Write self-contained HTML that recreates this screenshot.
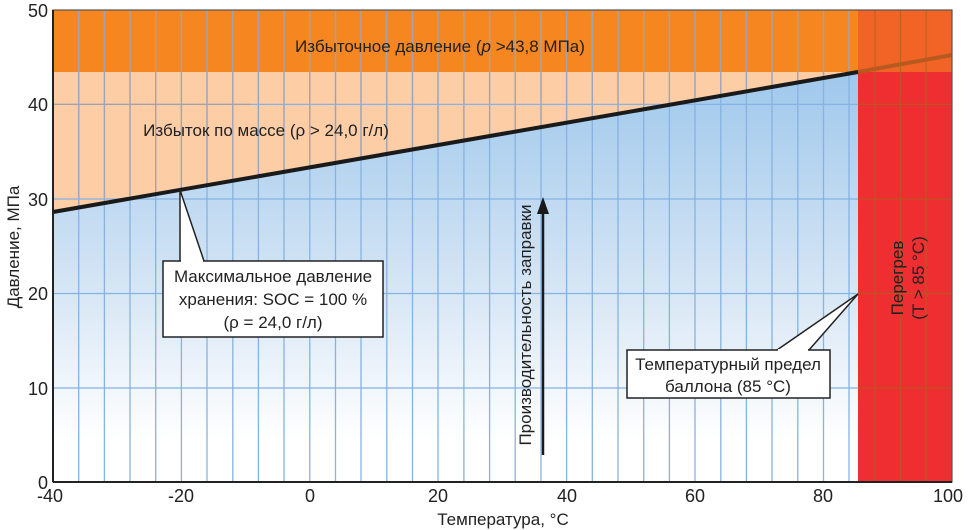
<!DOCTYPE html>
<html><head><meta charset="utf-8"><style>
html,body{margin:0;padding:0;background:#fff;}
svg{display:block;font-family:"Liberation Sans",sans-serif;}
</style></head><body>
<svg width="970" height="530" viewBox="0 0 970 530" xmlns="http://www.w3.org/2000/svg">
<defs>
<linearGradient id="bl" x1="0" y1="0" x2="0" y2="1">
<stop offset="0" stop-color="#9fc8ec"/>
<stop offset="0.5" stop-color="#d3e4f4"/>
<stop offset="0.9" stop-color="#ffffff"/>
</linearGradient>
</defs>
<rect x="53" y="72" width="805" height="410" fill="url(#bl)"/>
<polygon points="53,72 858,72 858,72 53,212" fill="#fdcda6"/>
<rect x="53" y="10" width="805" height="62" fill="#f58620"/>
<rect x="858" y="72" width="94" height="410" fill="#ee2e30"/>
<rect x="858" y="10" width="94" height="62" fill="#f16425"/>
<g stroke="#85b3e3" stroke-width="1.3">
<line x1="78.7" y1="10" x2="78.7" y2="482"/><line x1="104.4" y1="10" x2="104.4" y2="482"/><line x1="130" y1="10" x2="130" y2="482"/><line x1="155.7" y1="10" x2="155.7" y2="482"/><line x1="181.4" y1="10" x2="181.4" y2="482"/><line x1="207" y1="10" x2="207" y2="482"/><line x1="232.8" y1="10" x2="232.8" y2="482"/><line x1="258.4" y1="10" x2="258.4" y2="482"/><line x1="284" y1="10" x2="284" y2="482"/><line x1="309.8" y1="10" x2="309.8" y2="482"/><line x1="335.5" y1="10" x2="335.5" y2="482"/><line x1="361" y1="10" x2="361" y2="482"/><line x1="386.8" y1="10" x2="386.8" y2="482"/><line x1="412.5" y1="10" x2="412.5" y2="482"/><line x1="438" y1="10" x2="438" y2="482"/><line x1="463.9" y1="10" x2="463.9" y2="482"/><line x1="489.6" y1="10" x2="489.6" y2="482"/><line x1="515.2" y1="10" x2="515.2" y2="482"/><line x1="541" y1="10" x2="541" y2="482"/><line x1="566.6" y1="10" x2="566.6" y2="482"/><line x1="592.3" y1="10" x2="592.3" y2="482"/><line x1="618" y1="10" x2="618" y2="482"/><line x1="643.7" y1="10" x2="643.7" y2="482"/><line x1="669.4" y1="10" x2="669.4" y2="482"/><line x1="695" y1="10" x2="695" y2="482"/><line x1="720.8" y1="10" x2="720.8" y2="482"/><line x1="746.4" y1="10" x2="746.4" y2="482"/><line x1="772" y1="10" x2="772" y2="482"/><line x1="797.8" y1="10" x2="797.8" y2="482"/><line x1="823.5" y1="10" x2="823.5" y2="482"/><line x1="849" y1="10" x2="849" y2="482"/>
</g>
<g stroke="#a6a0a8" stroke-width="1.3" opacity="0.8">
<line x1="78.7" y1="10" x2="78.7" y2="207"/><line x1="104.4" y1="10" x2="104.4" y2="203"/><line x1="130" y1="10" x2="130" y2="198"/><line x1="155.7" y1="10" x2="155.7" y2="194"/><line x1="181.4" y1="10" x2="181.4" y2="190"/><line x1="207" y1="10" x2="207" y2="185"/><line x1="232.8" y1="10" x2="232.8" y2="181"/><line x1="258.4" y1="10" x2="258.4" y2="176"/><line x1="284" y1="10" x2="284" y2="172"/><line x1="309.8" y1="10" x2="309.8" y2="167"/><line x1="335.5" y1="10" x2="335.5" y2="163"/><line x1="361" y1="10" x2="361" y2="158"/><line x1="386.8" y1="10" x2="386.8" y2="154"/><line x1="412.5" y1="10" x2="412.5" y2="149"/><line x1="438" y1="10" x2="438" y2="145"/><line x1="463.9" y1="10" x2="463.9" y2="140"/><line x1="489.6" y1="10" x2="489.6" y2="136"/><line x1="515.2" y1="10" x2="515.2" y2="131"/><line x1="541" y1="10" x2="541" y2="127"/><line x1="566.6" y1="10" x2="566.6" y2="122"/><line x1="592.3" y1="10" x2="592.3" y2="118"/><line x1="618" y1="10" x2="618" y2="114"/><line x1="643.7" y1="10" x2="643.7" y2="109"/><line x1="669.4" y1="10" x2="669.4" y2="105"/><line x1="695" y1="10" x2="695" y2="100"/><line x1="720.8" y1="10" x2="720.8" y2="96"/><line x1="746.4" y1="10" x2="746.4" y2="91"/><line x1="772" y1="10" x2="772" y2="87"/><line x1="797.8" y1="10" x2="797.8" y2="82"/><line x1="823.5" y1="10" x2="823.5" y2="78"/><line x1="849" y1="10" x2="849" y2="73"/>
</g>
<g stroke="#85b3e3" stroke-width="1.3">
<line x1="53" y1="104.4" x2="858" y2="104.4"/>
<line x1="53" y1="199" x2="858" y2="199"/>
<line x1="53" y1="293.5" x2="858" y2="293.5"/>
<line x1="53" y1="388" x2="858" y2="388"/>
</g>
<g stroke="#a6a0a8" stroke-width="1.3"><line x1="53" y1="104.4" x2="250" y2="104.4"/></g>
<g stroke="#b0601f" stroke-width="1.2" opacity="0.75">
<line x1="875" y1="10" x2="875" y2="482"/><line x1="900.5" y1="10" x2="900.5" y2="482"/><line x1="926" y1="10" x2="926" y2="482"/>
<line x1="858" y1="104.4" x2="952" y2="104.4"/><line x1="858" y1="199" x2="952" y2="199"/><line x1="858" y1="293.5" x2="952" y2="293.5"/><line x1="858" y1="388" x2="952" y2="388"/>
</g>
<line x1="858" y1="72" x2="952" y2="55" stroke="#b85a20" stroke-width="4"/>
<line x1="53" y1="212" x2="858" y2="72" stroke="#1a1a1a" stroke-width="4"/>
<rect x="53" y="10" width="899" height="472" fill="none" stroke="#555" stroke-width="1.2"/>
<line x1="53" y1="10" x2="53" y2="482" stroke="#222" stroke-width="2"/>
<line x1="53" y1="482" x2="952" y2="482" stroke="#222" stroke-width="2"/>
<g font-size="18" fill="#222" text-anchor="end">
<text x="48" y="17">50</text><text x="48" y="111">40</text><text x="48" y="206">30</text><text x="48" y="300">20</text><text x="48" y="395">10</text><text x="48" y="489">0</text>
</g>
<g font-size="18" fill="#222" text-anchor="middle">
<text x="50" y="502">-40</text><text x="181" y="502">-20</text><text x="310" y="502">0</text><text x="438" y="502">20</text><text x="567" y="502">40</text><text x="695" y="502">60</text><text x="823" y="502">80</text><text x="948" y="502">100</text>
</g>
<text x="503" y="525" font-size="17" fill="#222" text-anchor="middle">Температура, °C</text>
<text transform="translate(19,247) rotate(-90)" font-size="17" fill="#222" text-anchor="middle">Давление, МПа</text>
<text x="440" y="52" font-size="17" fill="#222" text-anchor="middle">Избыточное давление (<tspan font-style="italic">p</tspan> &gt;43,8 МПа)</text>
<text x="266" y="136" font-size="17" fill="#222" text-anchor="middle">Избыток по массе (ρ &gt; 24,0 г/л)</text>
<text transform="translate(903,278) rotate(-90)" font-size="17" fill="#222" text-anchor="middle"><tspan x="0" y="0">Перегрев</tspan><tspan x="0" y="21">(T &gt; 85 °C)</tspan></text>
<line x1="543" y1="455" x2="543" y2="210" stroke="#1a1a1a" stroke-width="2.5"/>
<polygon points="543,197 537,214 549,214" fill="#1a1a1a"/>
<text transform="translate(531,325) rotate(-90)" font-size="17" fill="#222" text-anchor="middle">Производительность заправки</text>
<polygon points="180,190 180,261 204,261" fill="#fff" stroke="#222" stroke-width="1.5"/>
<rect x="163" y="261" width="220" height="76" fill="#fff" stroke="#222" stroke-width="1.5"/>
<line x1="181" y1="261" x2="203" y2="261" stroke="#fff" stroke-width="2"/>
<g font-size="17" fill="#222" text-anchor="middle">
<text x="273" y="282">Максимальное давление</text>
<text x="273" y="305">хранения: SOC  = 100 %</text>
<text x="273" y="328">(ρ = 24,0 г/л)</text>
</g>
<polygon points="858,294 777,350 809,350" fill="#fff" stroke="#222" stroke-width="1.5"/>
<rect x="627" y="350" width="203" height="48" fill="#fff" stroke="#222" stroke-width="1.5"/>
<line x1="778" y1="350" x2="808" y2="350" stroke="#fff" stroke-width="2"/>
<g font-size="17" fill="#222" text-anchor="middle">
<text x="728" y="370">Температурный предел</text>
<text x="728" y="392">баллона (85 °C)</text>
</g>
</svg>
</body></html>
